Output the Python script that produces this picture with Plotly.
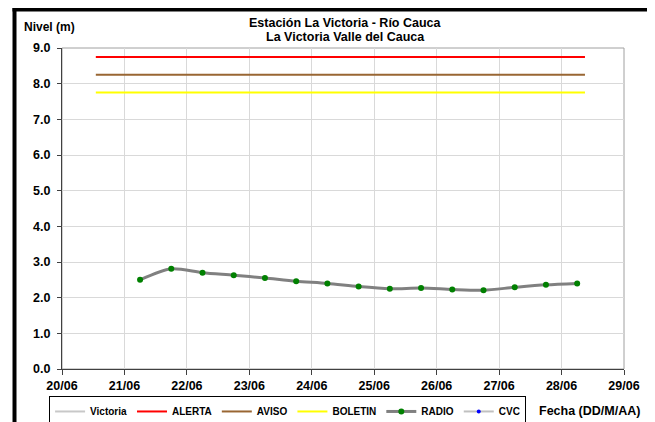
import plotly.graph_objects as go

# ---- data ----
radio_dates = [
    "2021-06-21 06:00", "2021-06-21 18:00",
    "2021-06-22 06:00", "2021-06-22 18:00",
    "2021-06-23 06:00", "2021-06-23 18:00",
    "2021-06-24 06:00", "2021-06-24 18:00",
    "2021-06-25 06:00", "2021-06-25 18:00",
    "2021-06-26 06:00", "2021-06-26 18:00",
    "2021-06-27 06:00", "2021-06-27 18:00",
    "2021-06-28 06:00",
]
radio_values = [2.50, 2.81, 2.70, 2.63, 2.55, 2.46, 2.40, 2.31,
                2.25, 2.27, 2.23, 2.21, 2.29, 2.36, 2.40]

threshold_dates = ["2021-06-20 13:00", "2021-06-28 09:00"]
alerta = [8.75, 8.75]
aviso = [8.25, 8.25]
boletin = [7.75, 7.75]

x_range = ["2021-06-20", "2021-06-29"]
y_range = [0, 9]

FONT = "Liberation Sans, Arial, sans-serif"

fig = go.Figure()
fig.add_trace(go.Scatter(x=[None], y=[None], name="Victoria", mode="lines",
                         line=dict(color="#C8C8C8", width=2)))
fig.add_trace(go.Scatter(x=threshold_dates, y=alerta, name="ALERTA", mode="lines",
                         line=dict(color="#FF0000", width=2)))
fig.add_trace(go.Scatter(x=threshold_dates, y=aviso, name="AVISO", mode="lines",
                         line=dict(color="#996633", width=2)))
fig.add_trace(go.Scatter(x=threshold_dates, y=boletin, name="BOLETIN", mode="lines",
                         line=dict(color="#FFFF00", width=2)))
fig.add_trace(go.Scatter(x=radio_dates, y=radio_values, name="RADIO", mode="lines+markers",
                         line=dict(color="#808080", width=3, shape="spline", smoothing=0.8),
                         marker=dict(color="#008000", size=6)))
fig.add_trace(go.Scatter(x=[None], y=[None], name="CVC", mode="lines+markers",
                         line=dict(color="#C0C0C0", width=2),
                         marker=dict(color="#0000FF", size=4)))

fig.update_xaxes(
    type="date", range=x_range, dtick=86400000, tick0="2021-06-20",
    tickformat="%d/%m", showgrid=True, gridcolor="#D9D9D9", gridwidth=1,
    showline=True, linecolor="#404040", linewidth=1,
    ticks="outside", ticklen=5, tickcolor="#404040",
    tickfont=dict(family=FONT, size=12.5, color="black", weight="bold"),
    zeroline=False,
)
fig.update_yaxes(
    range=y_range, dtick=1, tickformat=".1f", showgrid=True,
    gridcolor="#D9D9D9", gridwidth=1,
    showline=True, linecolor="#404040", linewidth=1,
    ticks="outside", ticklen=4, tickcolor="#404040", ticklabelstandoff=4,
    tickfont=dict(family=FONT, size=12.5, color="black", weight="bold"),
    zeroline=False,
)

# outer frame geometry in paper units (plot area = 562 x 321 px)
fx0, fx1 = -0.0845, 1.0463
fy_top = 1.1200
tw, th = 4 / 562, 4 / 321

fig.update_layout(
    width=647, height=414, autosize=False,
    margin=dict(l=54, r=31, t=40, b=53, autoexpand=False),
    paper_bgcolor="white", plot_bgcolor="white",
    showlegend=True,
    legend=dict(
        orientation="h", x=-0.023, y=-0.084, xanchor="left", yanchor="top",
        bgcolor="white", bordercolor="black", borderwidth=1,
        font=dict(family=FONT, size=10, color="black", weight="bold"),
        itemwidth=30, tracegroupgap=0,
    ),
    shapes=[
        dict(type="rect", xref="paper", yref="paper", x0=0, x1=1, y0=0, y1=1,
             line=dict(color="#A0A0A0", width=1), layer="below"),
        # outer black frame drawn as filled strips (left, top, right)
        dict(type="rect", xref="paper", yref="paper",
             x0=fx0 - tw / 2, x1=fx0 + tw / 2, y0=-0.2, y1=fy_top + th / 2,
             fillcolor="black", line=dict(width=0)),
        dict(type="rect", xref="paper", yref="paper",
             x0=fx0 - tw / 2, x1=fx1 + tw / 2, y0=fy_top - th / 2, y1=fy_top + th / 2,
             fillcolor="black", line=dict(width=0)),
        dict(type="rect", xref="paper", yref="paper",
             x0=fx1 - tw / 2, x1=fx1 + tw / 2, y0=-0.2, y1=fy_top + th / 2,
             fillcolor="black", line=dict(width=0)),
    ],
    annotations=[
        dict(text="<b>Estación La Victoria - Río Cauca</b>", xref="paper", yref="paper",
             x=0.505, y=1.0779, xanchor="center", yanchor="middle", showarrow=False,
             font=dict(family=FONT, size=12.5, color="black")),
        dict(text="<b>La Victoria Valle del Cauca</b>", xref="paper", yref="paper",
             x=0.505, y=1.0343, xanchor="center", yanchor="middle", showarrow=False,
             font=dict(family=FONT, size=12.5, color="black")),
        dict(text="<b>Nivel (m)</b>", xref="paper", yref="paper",
             x=-0.0712, y=1.065, xanchor="left", yanchor="middle", showarrow=False,
             font=dict(family=FONT, size=12, color="black")),
        dict(text="<b>Fecha (DD/M/AA)</b>", xref="paper", yref="paper",
             x=0.845, y=-0.13, xanchor="left", yanchor="middle", showarrow=False,
             font=dict(family=FONT, size=12.5, color="black")),
    ],
)

fig.write_html("out.html")
